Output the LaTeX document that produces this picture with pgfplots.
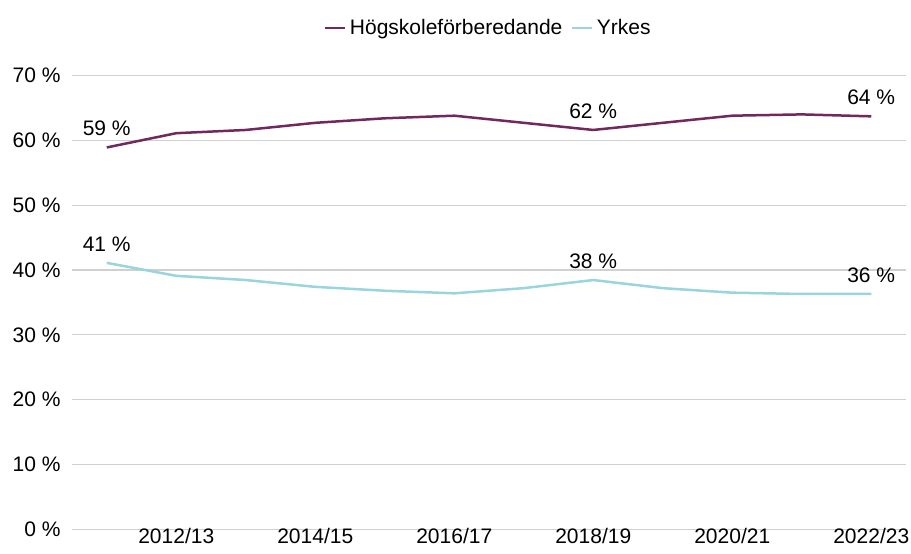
\documentclass[border=0pt]{standalone}
\usepackage{pgfplots}
\pgfplotsset{compat=1.18}
\usepackage{fontspec}
\setmainfont{Liberation Sans}
\definecolor{hpurple}{RGB}{112,40,94}
\definecolor{ycyan}{RGB}{153,212,223}
\definecolor{gridg}{RGB}{208,208,208}
\begin{document}
\fontsize{10.5}{12.6}\selectfont
\begin{tikzpicture}
\useasboundingbox (-36pt,-11.85pt) rectangle (419.5pt,264.65pt);
\begin{axis}[
  at={(0pt,0pt)}, anchor=south west,
  scale only axis, width=417pt, height=226.9pt,
  xmin=-0.5, xmax=11.5, ymin=0, ymax=70,
  axis line style={draw=none},
  major tick length=0pt,
  xtick={1,3,5,7,9,11},
  xticklabels={2012/13,2014/15,2016/17,2018/19,2020/21,2022/23},
  ytick={0,10,20,30,40,50,60,70},
  yticklabels={0 \%,10 \%,20 \%,30 \%,40 \%,50 \%,60 \%,70 \%},
  ymajorgrids, grid style={gridg, line width=0.6pt},
  tick label style={font=\fontsize{10.5}{12.6}\selectfont},
  yticklabel style={xshift=-2pt},
  xticklabel style={yshift=2pt, inner ysep=1.5pt},
  clip=false,
  legend style={at={(0.5,1)}, anchor=center, yshift=23.75pt, draw=none, fill=none,
    legend columns=-1, font=\fontsize{10.5}{12.6}\selectfont,
    /tikz/every even column/.append style={column sep=2pt}},
  legend image code/.code={\draw[#1] (0pt,0pt) -- (10pt,0pt);},
  every node near coord/.append style={font=\fontsize{10.5}{12.6}\selectfont, text=black, yshift=2pt},
]
\addplot[hpurple, line width=1.25pt] coordinates {
 (0,58.9) (1,61.1) (2,61.6) (3,62.7) (4,63.4) (5,63.8) (6,62.7) (7,61.6) (8,62.7) (9,63.8) (10,64.0) (11,63.7)};
\addlegendentry{Högskoleförberedande}
\addplot[ycyan, line width=1.25pt] coordinates {
 (0,41.1) (1,39.1) (2,38.45) (3,37.4) (4,36.8) (5,36.4) (6,37.2) (7,38.45) (8,37.2) (9,36.5) (10,36.3) (11,36.3)};
\addlegendentry{Yrkes}
\addplot[draw=none, forget plot, nodes near coords, point meta=explicit symbolic] coordinates {
 (0,58.9)[59 \%] (7,61.6)[62 \%] (11,63.7)[64 \%]};
\addplot[draw=none, forget plot, nodes near coords, point meta=explicit symbolic] coordinates {
 (0,41.1)[41 \%] (7,38.45)[38 \%] (11,36.3)[36 \%]};
\end{axis}
\end{tikzpicture}
\end{document}
